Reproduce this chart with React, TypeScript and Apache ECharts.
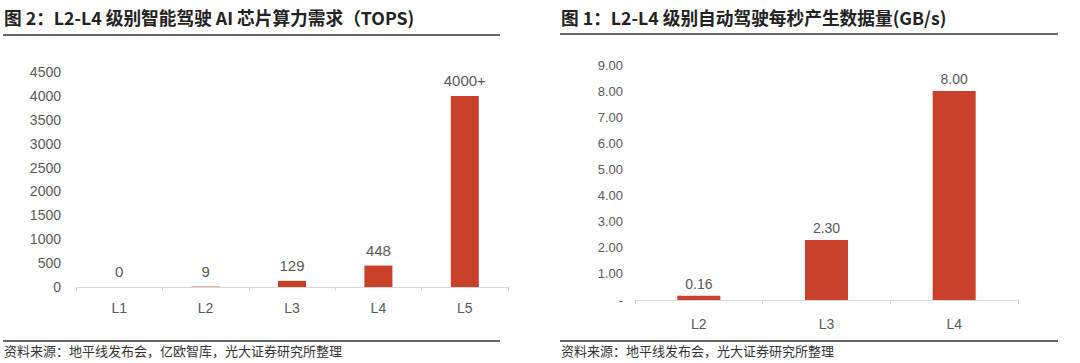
import React, { useEffect, useRef } from "react";
import * as echarts from "echarts";

const leftTitle = "图 2：L2-L4 级别智能驾驶 AI 芯片算力需求（TOPS)";
const rightTitle = "图 1：L2-L4 级别自动驾驶每秒产生数据量(GB/s)";
const leftSource = "资料来源：地平线发布会，亿欧智库，光大证券研究所整理";
const rightSource = "资料来源：地平线发布会，光大证券研究所整理";

const topsCategories = ["L1", "L2", "L3", "L4", "L5"];
const topsValues = [0, 9, 129, 448, 4000];
const topsLabels = ["0", "9", "129", "448", "4000+"];

const dataCategories = ["L2", "L3", "L4"];
const dataValues = [0.16, 2.3, 8.0];

const BAR = "#C9412A";
const GRAY = "#595959";
const FONT = "'Noto Sans CJK SC', 'Noto Sans', sans-serif";
const NUMFONT = "'Liberation Sans', Arial, sans-serif";

export default function App() {
  const ref = useRef<HTMLDivElement>(null);
  useEffect(() => {
    const chart = echarts.init(ref.current!, null, { renderer: "svg" });
    chart.setOption({
      animation: false,
      backgroundColor: "#ffffff",
      grid: [
        { left: 76, right: 572, top: 72, bottom: 76 },
        { left: 635, right: 62, top: 65, bottom: 63 },
      ],
      xAxis: [
        {
          gridIndex: 0,
          type: "category",
          data: topsCategories,
          axisLine: { lineStyle: { color: "#d9d9d9", width: 1 } },
          axisTick: { show: true, length: 4, lineStyle: { color: "#d9d9d9" } },
          axisLabel: { color: GRAY, fontSize: 14, margin: 14, fontFamily: NUMFONT },
        },
        {
          gridIndex: 1,
          type: "category",
          data: dataCategories,
          axisLine: { lineStyle: { color: "#d9d9d9", width: 1 } },
          axisTick: { show: true, length: 4, lineStyle: { color: "#d9d9d9" } },
          axisLabel: { color: GRAY, fontSize: 14, margin: 17, fontFamily: NUMFONT },
        },
      ],
      yAxis: [
        {
          gridIndex: 0,
          type: "value",
          min: 0,
          max: 4500,
          interval: 500,
          splitLine: { show: false },
          axisLine: { show: false },
          axisTick: { show: false },
          axisLabel: {
            color: GRAY,
            fontSize: 14,
            margin: 15,
            fontFamily: NUMFONT,
            formatter: (v: number) => String(v),
          },
        },
        {
          gridIndex: 1,
          type: "value",
          min: 0,
          max: 9,
          interval: 1,
          splitLine: { show: false },
          axisLine: { show: false },
          axisTick: { show: false },
          axisLabel: {
            color: GRAY,
            fontSize: 13,
            margin: 12,
            fontFamily: NUMFONT,
            formatter: (v: number) => (v === 0 ? "-" : v.toFixed(2)),
          },
        },
      ],
      series: [
        {
          type: "bar",
          xAxisIndex: 0,
          yAxisIndex: 0,
          data: topsValues,
          barWidth: 28,
          itemStyle: { color: BAR },
          label: {
            show: true,
            position: "top",
            distance: 8,
            color: GRAY,
            fontSize: 15,
            fontFamily: NUMFONT,
            formatter: (p: any) => topsLabels[p.dataIndex],
          },
        },
        {
          type: "bar",
          xAxisIndex: 1,
          yAxisIndex: 1,
          data: dataValues,
          barWidth: 43,
          itemStyle: { color: BAR },
          label: {
            show: true,
            position: "top",
            distance: 5,
            color: GRAY,
            fontSize: 14,
            fontFamily: NUMFONT,
            formatter: (p: any) => (p.value as number).toFixed(2),
          },
        },
      ],
      graphic: [
        {
          type: "text",
          left: 4,
          top: 8,
          style: { text: leftTitle, fontSize: 17.7, fontWeight: "bold", fill: "#222", fontFamily: FONT },
        },
        {
          type: "text",
          left: 561,
          top: 8,
          style: { text: rightTitle, fontSize: 17.7, fontWeight: "bold", fill: "#222", fontFamily: FONT },
        },
        { type: "line", shape: { x1: 3, y1: 35, x2: 500, y2: 35 }, style: { stroke: "#333", lineWidth: 1.5 } },
        { type: "line", shape: { x1: 560, y1: 34, x2: 1058, y2: 34 }, style: { stroke: "#333", lineWidth: 1.5 } },
        { type: "line", shape: { x1: 3, y1: 341, x2: 500, y2: 341 }, style: { stroke: "#333", lineWidth: 1.5 } },
        { type: "line", shape: { x1: 560, y1: 341, x2: 1058, y2: 341 }, style: { stroke: "#333", lineWidth: 1.5 } },
        {
          type: "text",
          left: 4,
          top: 344,
          style: { text: leftSource, fontSize: 13, fill: "#333", fontFamily: FONT },
        },
        {
          type: "text",
          left: 561,
          top: 344,
          style: { text: rightSource, fontSize: 13, fill: "#333", fontFamily: FONT },
        },
      ],
    });
    return () => chart.dispose();
  }, []);
  return (
    <div
      ref={ref}
      style={{ position: "absolute", left: 0, top: 0, width: 1080, height: 363 }}
    />
  );
}
